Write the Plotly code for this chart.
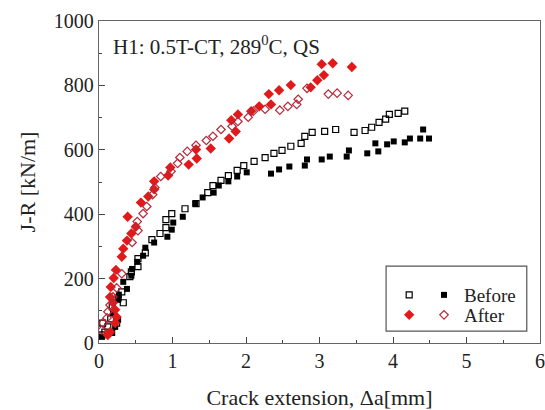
import plotly.graph_objects as go

# Before, filled squares
bf_x = [0.04, 0.18, 0.22, 0.26, 0.19, 0.26, 0.27, 0.33, 0.38, 0.44, 0.45, 0.52, 0.60, 0.63, 0.75, 0.93, 0.99, 1.01,
        1.14, 1.31, 1.41, 1.56, 1.63, 1.76, 1.88, 2.01, 2.34, 2.45, 2.59, 2.80, 2.83, 3.03, 3.14, 3.37, 3.40, 3.65,
        3.76, 3.80, 3.92, 4.01, 4.16, 4.23, 4.37, 4.41, 4.49]
bf_y = [19, 31, 50, 72, 93, 134, 150, 190, 168, 209, 230, 252, 271, 296, 312, 330, 352, 374,
        392, 433, 452, 467, 489, 502, 517, 530, 526, 539, 548, 551, 570, 570, 579, 579, 598, 589,
        620, 595, 617, 626, 623, 635, 635, 663, 635]

# Before, open squares
bo_x = [0.04, 0.08, 0.12, 0.05, 0.16, 0.24, 0.18, 0.26, 0.33, 0.31, 0.42, 0.44, 0.53, 0.53, 0.63, 0.72, 0.83, 0.91,
        0.91, 0.99, 1.17, 1.32, 1.48, 1.55, 1.66, 1.76, 1.88, 1.97, 2.11, 2.26, 2.38, 2.49, 2.61, 2.75, 2.80, 2.90,
        3.07, 3.22, 3.47, 3.62, 3.71, 3.81, 3.90, 3.95, 4.07, 4.16]
bo_y = [25, 34, 50, 62, 75, 62, 112, 140, 125, 159, 206, 221, 237, 262, 280, 321, 340, 358,
        383, 402, 417, 433, 467, 489, 505, 520, 536, 551, 564, 576, 589, 598, 611, 620, 642, 654,
        657, 663, 654, 660, 670, 685, 695, 710, 713, 720]

# After, filled
af_x = [0.12, 0.15, 0.22, 0.24, 0.22, 0.19, 0.15, 0.16, 0.20, 0.23, 0.31, 0.33, 0.38, 0.44, 0.50, 0.39, 0.57, 0.67,
        0.75, 0.75, 0.94, 0.97, 1.22, 1.32, 1.33, 1.52, 1.77, 1.86, 1.80, 1.89, 2.07, 2.18, 2.34, 2.31, 2.45, 2.61,
        2.88, 2.97, 3.06, 3.03, 3.18, 3.44]
af_y = [25, 34, 62, 81, 103, 125, 143, 174, 202, 227, 268, 293, 318, 340, 361, 392, 436, 455,
        477, 502, 520, 545, 554, 601, 573, 604, 635, 657, 692, 710, 720, 735, 741, 773, 785, 801,
        794, 816, 832, 866, 869, 857]

# After, open diamonds
ao_x = [0.04, 0.05, 0.11, 0.12, 0.15, 0.19, 0.24, 0.31, 0.45, 0.53, 0.52, 0.60, 0.65, 0.73, 0.76, 0.84, 0.98, 1.07,
        1.10, 1.20, 1.32, 1.46, 1.55, 1.66, 1.81, 1.89, 2.03, 2.10, 2.26, 2.46, 2.57, 2.69, 2.71, 2.83, 3.12, 3.24, 3.39]
ao_y = [40, 62, 78, 97, 118, 143, 171, 215, 312, 349, 377, 402, 424, 461, 483, 517, 533, 558,
        576, 595, 614, 629, 642, 663, 673, 688, 701, 720, 726, 723, 735, 741, 757, 791, 773, 776, 769]

x_ticks = [0, 1, 2, 3, 4, 5, 6]
y_ticks = [0, 200, 400, 600, 800, 1000]

FONT = "Liberation Serif, Times New Roman, serif"
RED = "#e01a1a"
DRED = "#b8283a"

fig = go.Figure()
fig.add_trace(go.Scatter(x=bo_x, y=bo_y, mode="markers", name=" ", legend="legend",
                         marker=dict(symbol="square-open", size=6, color="black", line=dict(width=1.2))))
fig.add_trace(go.Scatter(x=bf_x, y=bf_y, mode="markers", name="Before", legend="legend2",
                         marker=dict(symbol="square", size=6, color="black")))
fig.add_trace(go.Scatter(x=af_x, y=af_y, mode="markers", name=" ", legend="legend3",
                         marker=dict(symbol="diamond", size=8, color=RED)))
fig.add_trace(go.Scatter(x=ao_x, y=ao_y, mode="markers", name="After", legend="legend4",
                         marker=dict(symbol="diamond-open", size=6.5, color=DRED, line=dict(width=1.2))))

axis_common = dict(showgrid=False, zeroline=False, showline=True, linecolor="#666666", linewidth=1.3,
                   mirror=True, ticks="inside", ticklen=6, tickcolor="#444444", automargin=False,
                   tickfont=dict(family=FONT, size=20, color="#222222"))

fig.update_xaxes(range=[0, 6], tickvals=x_ticks, ticktext=[str(v) for v in x_ticks],
                 minor=dict(ticks="inside", ticklen=3, dtick=0.5, tickcolor="#444444"),
                 title=dict(text="Crack extension, Δa[mm]", font=dict(family=FONT, size=22, color="#222222"),
                            standoff=18),
                 **axis_common)
fig.update_yaxes(range=[0, 1000], tickvals=y_ticks, ticktext=[str(v) for v in y_ticks],
                 minor=dict(ticks="inside", ticklen=3, dtick=100, tickcolor="#444444"),
                 title=dict(text="J-R [kN/m]", font=dict(family=FONT, size=22, color="#222222"), standoff=12),
                 **axis_common)

leg_common = dict(bgcolor="rgba(0,0,0,0)", borderwidth=0, yanchor="top", xanchor="left",
                  font=dict(family=FONT, size=19, color="#222222"), itemwidth=30, tracegroupgap=0)
fig.update_layout(
    width=545, height=410,
    margin=dict(l=99, r=5, t=21, b=67, autoexpand=False),
    plot_bgcolor="white", paper_bgcolor="white",
    legend=dict(x=0.658, y=0.208, **leg_common),
    legend2=dict(x=0.737, y=0.208, **leg_common),
    legend3=dict(x=0.658, y=0.146, **leg_common),
    legend4=dict(x=0.737, y=0.146, **leg_common),
    shapes=[dict(type="rect", xref="paper", yref="paper", x0=0.651, x1=0.970, y0=0.037, y1=0.239,
                 line=dict(color="#555555", width=1.2), fillcolor="rgba(0,0,0,0)")],
    annotations=[dict(text="H1: 0.5T-CT, 289<sup>0</sup>C, QS", xref="paper", yref="paper",
                      x=0.027, y=0.925, xanchor="left", yanchor="middle", showarrow=False,
                      font=dict(family=FONT, size=21, color="#222222"))],
    showlegend=True,
)

fig.write_html("out.html", config={"displayModeBar": False},
               post_script="document.body.style.margin='0';document.body.style.overflow='hidden';")
